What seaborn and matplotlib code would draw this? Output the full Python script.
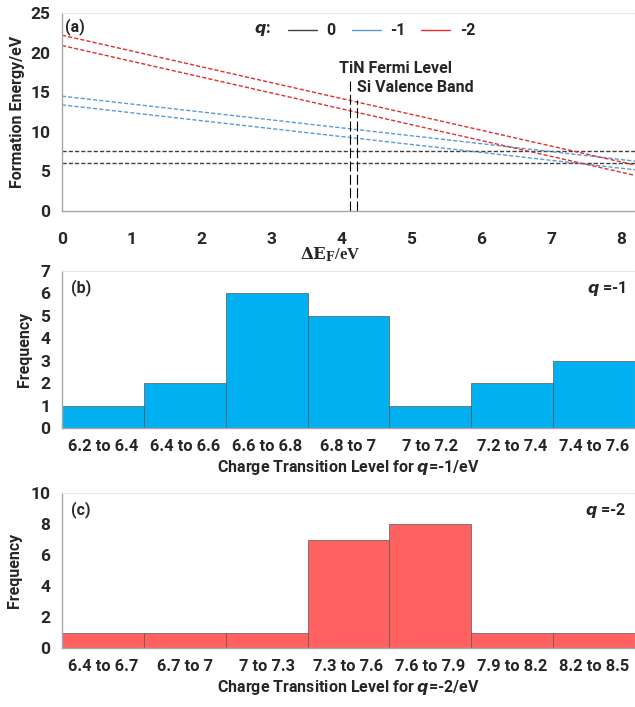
import numpy as np
import pandas as pd
import matplotlib.pyplot as plt
import seaborn as sns
from matplotlib.ticker import MultipleLocator, FixedLocator, NullFormatter
from matplotlib.lines import Line2D

# panel (a): formation energy lines, endpoints read at dE_F = 0 and 8.2
ef_ends = [0.0, 8.2]
q_labels = ["0", "0", "-1", "-1", "-2", "-2"]
e_start = [7.6, 6.0, 14.5, 13.4, 22.2, 20.9]
e_end = [7.6, 6.0, 6.3, 5.2, 5.8, 4.5]
tin_fermi = 4.12
si_valence = 4.22
tin_top = 16.5
si_top = 14.0

# panel (b): q = -1 histogram
bins_b = ["6.2 to 6.4", "6.4 to 6.6", "6.6 to 6.8", "6.8 to 7", "7 to 7.2", "7.2 to 7.4", "7.4 to 7.6"]
freq_b = [1, 2, 6, 5, 1, 2, 3]

# panel (c): q = -2 histogram
bins_c = ["6.4 to 6.7", "6.7 to 7", "7 to 7.3", "7.3 to 7.6", "7.6 to 7.9", "7.9 to 8.2", "8.2 to 8.5"]
freq_c = [1, 1, 1, 7, 8, 1, 1]

sns.set_style("white")
plt.rcParams['font.family'] = ['Roboto', 'DejaVu Sans']
plt.rcParams['font.weight'] = 'bold'
plt.rcParams['mathtext.fontset'] = 'custom'
plt.rcParams['mathtext.rm'] = 'Roboto:bold'
plt.rcParams['mathtext.it'] = 'DejaVu Sans:italic:bold'
plt.rcParams['mathtext.bf'] = 'Roboto:bold'

colors = {"0": "#404040", "-1": "#5b9bd5", "-2": "#e03030"}
spine_col = "#a6a6a6"
lbl_size = 11.5
tick_size = 12.5

fig = plt.figure(figsize=(6.35, 7.07), dpi=100)
W, H = 635, 707
def axes_px(l, t, r, b):
    return fig.add_axes([l / W, 1 - b / H, (r - l) / W, (b - t) / H])

ax1 = axes_px(62, 13, 635, 211)
ax2 = axes_px(62, 271, 635, 428)
ax3 = axes_px(62, 493, 635, 648)

def style_axis(ax):
    for s in ["top", "right"]:
        ax.spines[s].set_color("#e6e6e6")
        ax.spines[s].set_linewidth(0.8)
    for s in ["left", "bottom"]:
        ax.spines[s].set_color(spine_col)
        ax.spines[s].set_linewidth(1.0)
    ax.tick_params(axis="both", which="both", direction="out", color=spine_col, labelsize=tick_size)
    ax.tick_params(axis="both", which="major", length=5, width=1)
    ax.tick_params(axis="both", which="minor", length=3, width=0.8)
    for lab in ax.get_xticklabels() + ax.get_yticklabels():
        lab.set_fontweight("bold")

# ---- panel (a)
rows = []
for i, (q, a, b) in enumerate(zip(q_labels, e_start, e_end)):
    rows.append({"line": i, "q": q, "x": ef_ends[0], "y": a})
    rows.append({"line": i, "q": q, "x": ef_ends[1], "y": b})
df_a = pd.DataFrame(rows)
for i, g in df_a.groupby("line"):
    q = g["q"].iloc[0]
    sns.lineplot(data=g, x="x", y="y", ax=ax1, color=colors[q], linewidth=1.0,
                 linestyle=(0, (3, 1.5)), legend=False)
for xv, top in [(tin_fermi, tin_top), (si_valence, si_top)]:
    sns.lineplot(x=[xv, xv], y=[0, top], ax=ax1, color="black", linewidth=0.8,
                 linestyle=(0, (9, 3)), estimator=None, sort=False, errorbar=None)
ax1.set_xlim(0, 8.2)
ax1.set_ylim(0, 25)
ax1.xaxis.set_major_locator(MultipleLocator(1))
ax1.xaxis.set_minor_locator(MultipleLocator(0.2))
ax1.yaxis.set_major_locator(MultipleLocator(5))
ax1.yaxis.set_minor_locator(MultipleLocator(1))
ax1.set_xlabel("")
ax1.set_ylabel("Formation Energy/eV", fontsize=lbl_size, fontweight="bold", labelpad=4)
ax1.text(tin_fermi - 0.16, 17.0, "TiN Fermi Level", fontsize=11.5, fontweight="bold", va="bottom")
ax1.text(si_valence + 0.0, 14.6, "Si Valence Band", fontsize=11.5, fontweight="bold", va="bottom")
ax1.text(0.05, 24.3, "(a)", fontsize=11.5, fontweight="bold", va="top")
handles = [Line2D([0], [0], color=colors[k], linewidth=1.0) for k in ["0", "-1", "-2"]]
leg = ax1.legend(handles, ["0", "-1", "-2"], ncol=3, loc="upper left", bbox_to_anchor=(0.37, 1.02),
                 frameon=False, fontsize=11.5, handlelength=1.8, columnspacing=1.0, handletextpad=0.6)
for t in leg.get_texts():
    t.set_fontweight("bold")
ax1.text(0.335, 0.955, "$q$:", transform=ax1.transAxes, fontsize=11.5, va="top")
style_axis(ax1)
ax1.tick_params(axis="x", pad=10)
fig.text(330 / W, 1 - 255 / H, r"$\mathbf{\Delta E_F}$/eV", fontsize=12, family="Liberation Serif",
         fontweight="bold", ha="center", va="center", math_fontfamily="dejavuserif")

# ---- panels (b) and (c)
def hist_panel(ax, bins, freq, color, ymax, ystep, yminor, tag, qlab, xlab):
    df = pd.DataFrame({"bin": bins, "freq": freq})
    sns.barplot(data=df, x="bin", y="freq", ax=ax, color=color, width=1.0,
                edgecolor="#595959", linewidth=0.5, saturation=1)
    ax.set_xlim(-0.5, len(bins) - 0.5)
    ax.set_ylim(0, ymax)
    ax.yaxis.set_major_locator(MultipleLocator(ystep))
    ax.yaxis.set_minor_locator(MultipleLocator(yminor))
    ax.xaxis.set_minor_locator(FixedLocator(np.arange(-0.5, len(bins), 1.0)))
    ax.xaxis.set_minor_formatter(NullFormatter())
    ax.set_ylabel("Frequency", fontsize=lbl_size, fontweight="bold", labelpad=6)
    style_axis(ax)
    ax.tick_params(axis="x", which="major", length=0, pad=8, labelsize=11.8)
    ax.tick_params(axis="x", which="minor", length=5)
    ax.set_xlabel(xlab, fontsize=lbl_size, fontweight="bold", labelpad=3)
    ax.text(0.015, 0.95, tag, transform=ax.transAxes, fontsize=11.5, fontweight="bold", va="top")
    ax.text(0.985, 0.95, qlab, transform=ax.transAxes, fontsize=11.5, fontweight="bold",
            va="top", ha="right")

hist_panel(ax2, bins_b, freq_b, "#00b0f0", 7, 1, 0.2, "(b)", r"$q$ =-1",
           r"Charge Transition Level for $q$=-1/eV")
hist_panel(ax3, bins_c, freq_c, "#ff6161", 10, 2, 0.4, "(c)", r"$q$ =-2",
           r"Charge Transition Level for $q$=-2/eV")

fig.savefig("out.png", dpi=100)
